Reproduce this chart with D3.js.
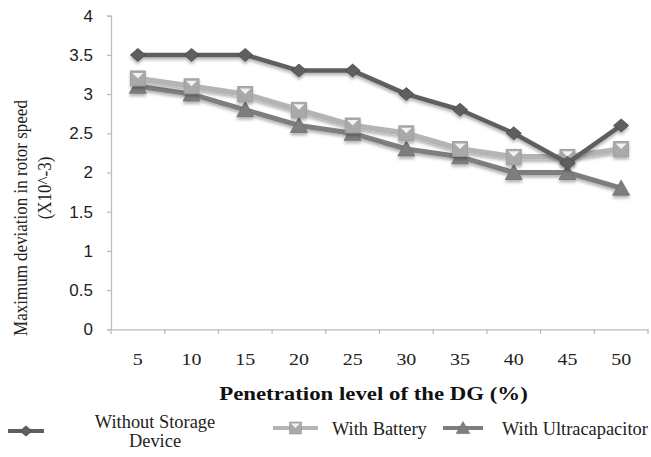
<!DOCTYPE html>
<html><head><meta charset="utf-8">
<script src="https://cdn.jsdelivr.net/npm/d3@7"></script>
<style>body{margin:0;background:#fff}svg{display:block}</style>
</head><body>
<script>
const categories = ["5","10","15","20","25","30","35","40","45","50"];
const withoutStorage = [3.5,3.5,3.5,3.3,3.3,3.0,2.8,2.5,2.12,2.6];
const withBattery = [3.2,3.1,3.0,2.8,2.6,2.5,2.3,2.2,2.2,2.3];
const withUltracap = [3.1,3.0,2.8,2.6,2.5,2.3,2.2,2.0,2.0,1.8];
const yTicks = [0,0.5,1,1.5,2,2.5,3,3.5,4];
const seriesNames = ["Without Storage Device","With Battery","With Ultracapacitor"];

const W=651,H=457;
const SERIF="Liberation Serif, Times New Roman, serif";
const svg=d3.select("body").append("svg").attr("width",W).attr("height",H);
const defs=svg.append("defs");
const f=defs.append("filter").attr("id","sh").attr("x","-20%").attr("y","-20%").attr("width","140%").attr("height","160%");
f.append("feDropShadow").attr("dx",0).attr("dy",2.5).attr("stdDeviation",1.6).attr("flood-color","#000").attr("flood-opacity",0.3);

const x=d3.scaleBand().domain(categories).range([111,648]);
const y=d3.scaleLinear().domain([0,4]).range([329.3,15.7]);

// axes
const yAx=svg.append("g").attr("transform","translate(111,0)")
  .call(d3.axisLeft(y).tickValues(yTicks).tickSize(4).tickPadding(14).tickFormat(d=>d));
yAx.select(".domain").attr("stroke","#bdbdbd").attr("stroke-width",1.3);
yAx.selectAll(".tick line").attr("stroke","#bdbdbd").attr("stroke-width",1.3);
yAx.selectAll("text").attr("font-family","Liberation Sans, Arial, sans-serif").attr("font-size",17).attr("fill","#222");

const xAx=svg.append("g").attr("transform","translate(0,329.3)")
  .call(d3.axisBottom(x).tickSize(0));
xAx.select(".domain").attr("stroke","#bdbdbd").attr("stroke-width",1.3);
xAx.selectAll("text").attr("font-family",SERIF).attr("font-size",17.5).attr("fill","#222")
  .attr("y",35.7).attr("dy",0).attr("transform","scale(1.14,1)");
// boundary ticks
const bounds=categories.map(c=>x(c)).concat([x.range()[1]]);
svg.append("g").selectAll("line").data(bounds).join("line")
  .attr("x1",d=>d).attr("x2",d=>d).attr("y1",329.3).attr("y2",334)
  .attr("stroke","#bdbdbd").attr("stroke-width",1.3);

// titles
svg.append("text").attr("transform","translate(373.5,400) scale(1.17,1)").attr("text-anchor","middle")
  .attr("font-family",SERIF).attr("font-weight","bold").attr("font-size",19.5).attr("fill","#111")
  .text("Penetration level of the DG (%)");
svg.append("text").attr("transform","translate(27,218) rotate(-90) scale(1,1.15)").attr("text-anchor","middle")
  .attr("font-family",SERIF).attr("font-size",17).attr("fill","#222")
  .text("Maximum deviation in rotor speed");
svg.append("text").attr("transform","translate(51,188) rotate(-90) scale(1,1.15)").attr("text-anchor","middle")
  .attr("font-family",SERIF).attr("font-size",17).attr("fill","#222")
  .text("(X10^-3)");

const cx=c=>x(c)+x.bandwidth()/2;
const series=[
  {name:seriesNames[0],vals:withoutStorage,color:"#5e5e5e",mk:"diamond",lw:4.5},
  {name:seriesNames[1],vals:withBattery,color:"#b4b4b4",mk:"square",lw:5.5},
  {name:seriesNames[2],vals:withUltracap,color:"#7e7e7e",mk:"triangle",lw:5}
];
const line=d3.line().x(d=>cx(d.c)).y(d=>y(d.v));

function marker(g,type,color){
  if(type==="diamond"){
    g.append("path").attr("d","M0,-6.5L7.5,0L0,6.5L-7.5,0Z").attr("fill",color).attr("stroke","#4a4a4a").attr("stroke-width",0.8);
  } else if(type==="square"){
    g.append("rect").attr("x",-7.5).attr("y",-7.5).attr("width",15).attr("height",15).attr("fill","#a9a9a9").attr("stroke","#9a9a9a").attr("stroke-width",0.8);
    g.append("path").attr("d","M-5.5,-5.5L0,0L5.5,-5.5Z").attr("fill","#f2f2f2");
  } else {
    g.append("path").attr("d","M0,-8L8.5,7L-8.5,7Z").attr("fill",color).attr("stroke","#6e6e6e").attr("stroke-width",0.8);
  }
}

// draw order: ultracap, battery, without on top
[series[2],series[1],series[0]].forEach(s=>{
  const data=categories.map((c,i)=>({c,v:s.vals[i]}));
  const g=svg.append("g").attr("filter","url(#sh)");
  g.append("path").datum(data).attr("d",line).attr("fill","none").attr("stroke",s.color).attr("stroke-width",s.lw).attr("stroke-linejoin","round");
  g.selectAll("g.m").data(data).join("g").attr("class","m")
    .attr("transform",d=>`translate(${cx(d.c)},${y(d.v)})`)
    .each(function(){marker(d3.select(this),s.mk,s.color);});
});

// legend
const leg=[
  {s:series[0],x1:8,x2:44,y:431,tx:155,lines:["Without Storage","Device"],ty:428,anchor:"middle"},
  {s:series[1],x1:273,x2:318,y:428,tx:332,lines:["With Battery"],ty:435,anchor:"start"},
  {s:series[2],x1:443,x2:483,y:428,tx:502,lines:["With Ultracapacitor"],ty:435,anchor:"start"}
];
leg.forEach(l=>{
  const g=svg.append("g");
  g.append("line").attr("x1",l.x1).attr("x2",l.x2).attr("y1",l.y).attr("y2",l.y).attr("stroke",l.s.color).attr("stroke-width",4);
  const m=g.append("g").attr("transform",`translate(${(l.x1+l.x2)/2},${l.y}) scale(0.8)`);
  marker(m,l.s.mk,l.s.color);
  l.lines.forEach((ln,i)=>{
    g.append("text").attr("text-anchor",l.anchor)
      .attr("transform",`translate(${l.tx},${l.ty+i*19})`)
      .attr("font-family",SERIF).attr("font-size",18.4).attr("fill","#222").text(ln);
  });
});
</script>
</body></html>
